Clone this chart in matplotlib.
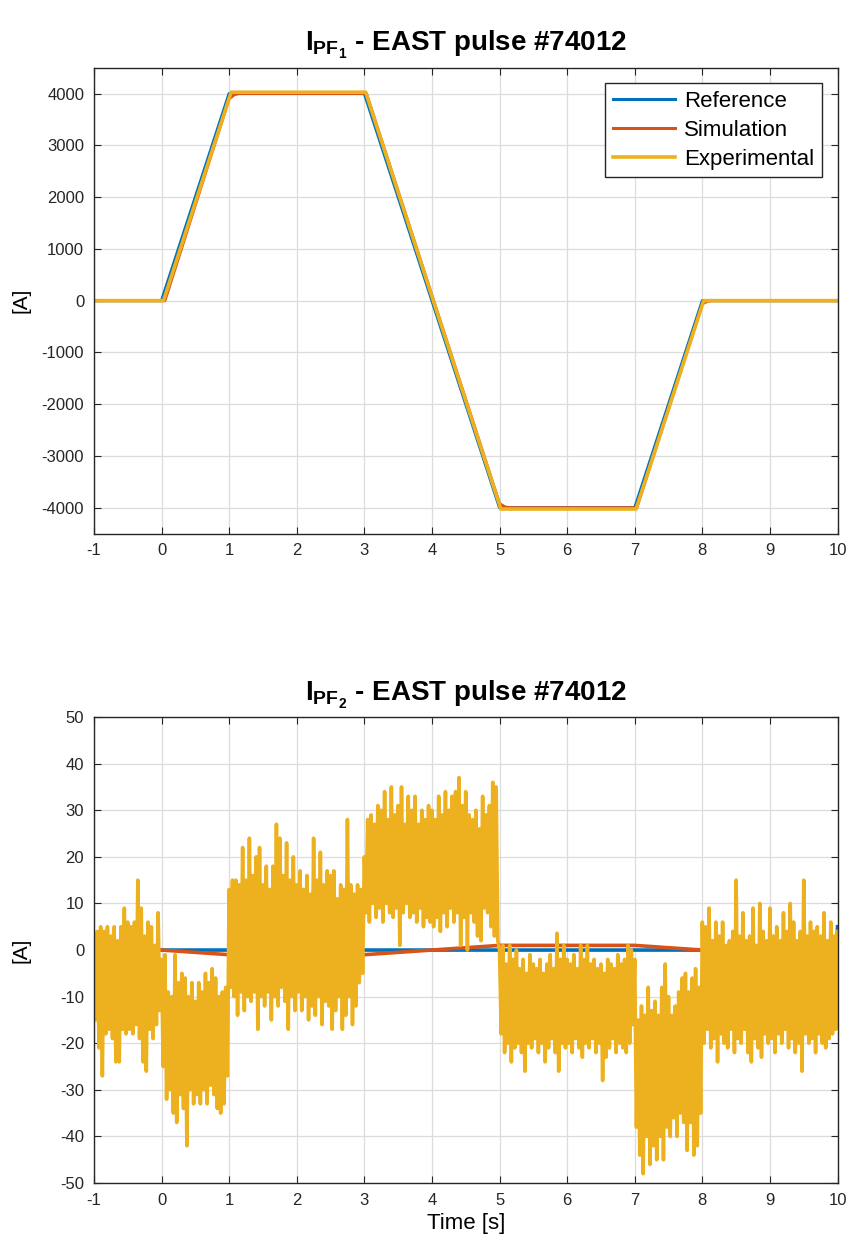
import numpy as np
import matplotlib
matplotlib.use("Agg")
import matplotlib.pyplot as plt

plt.rcParams['font.family'] = ['Liberation Sans', 'DejaVu Sans']
plt.rcParams['mathtext.fontset'] = 'custom'
plt.rcParams['mathtext.rm'] = 'Liberation Sans'
plt.rcParams['mathtext.bf'] = 'Liberation Sans:bold'
plt.rcParams['axes.unicode_minus'] = False
plt.rcParams['path.simplify'] = False

BLUE = '#0072BD'
RED = '#D95319'
YELLOW = '#EDB120'

# ---- PF1 currents [A] ----
pf1_ref_t = [-1, 0, 1, 3, 5, 7, 8, 10]
pf1_ref = [0, 0, 4000, 4000, -4000, -4000, 0, 0]
pf1_sim_t = [-1, 0.05, 1.0, 1.08, 1.15, 3.03, 5.0, 5.08, 5.15, 7.03, 8.0, 8.08, 8.15, 10]
pf1_sim = [0, 0, 3900, 3980, 4000, 4000, -3920, -3985, -4000, -4000, -60, -10, 0, 0]
pf1_exp_t = [-1, 0.03, 1.03, 3.02, 5.02, 7.02, 8.02, 10]
pf1_exp = [0, 0, 4025, 4025, -4025, -4025, 0, 0]

# ---- PF2 currents [A] ----
pf2_ref_t = [-1, 9.99, 10]
pf2_ref = [0, 0, 5]
pf2_sim_t = [-1, 0, 1, 3, 5, 7, 8, 10]
pf2_sim = [0, 0, -1, -1, 1, 1, 0, 0]

# experimental PF2: upper / lower excursions read every 0.05 s from t = -1
pf2_exp_hi = [
    3, 4, 5, 4, 5, 3, 5, 2, 5, 9, 6, 5, 6, 15, 9, 3, 6, 5, 1, 8,
    -2, -1, -9, -10, -1, -7, -5, -6, -10, -7, -11, -7, -9, -5, -7, -4, -6, -10, -9, -8,
    13, 15, 15, 14, 22, 15, 24, 16, 20, 22, 14, 18, 13, 18, 27, 24, 16, 23, 15, 20,
    14, 17, 13, 16, 12, 24, 15, 21, 14, 17, 16, 17, 11, 14, 13, 28, 14, 12, 14, 13,
    20, 28, 29, 27, 31, 30, 34, 28, 35, 29, 31, 35, 27, 33, 30, 33, 27, 30, 28, 31,
    30, 28, 33, 29, 34, 30, 33, 34, 37, 31, 34, 29, 28, 30, 26, 33, 29, 31, 36, 35,
    0, 1, -3, 1, -2, 0, -4, -2, -5, -1, -3, -4, -2, -5, -3, -1, -4, 3.6, -2, 1,
    -2, -3, -1, -4, 1, -2, 1, -3, -2, -4, -3, -5, -2, -3, -4, -1, -3, -2, 1, 0,
    -2, -15, -12, -14, -8, -13, -11, -14, -8, -3, -10, -14, -12, -9, -6, -5, -9, -6, -4, -8,
    6, 5, 9, 2, 6, 3, 6, 1, 2, 4, 15, 3, 8, 2, 3, 9, 1, 10, 4, 2,
    9, 3, 5, 2, 8, 4, 10, 6, 2, 4, 15, 3, 6, 4, 5, 3, 8, 2, 6, 3,
]
pf2_exp_lo = [
    -15, -21, -27, -18, -17, -19, -24, -24, -17, -18, -17, -18, -16, -19, -24, -26, -17, -19, -16, -13,
    -25, -32, -30, -35, -37, -31, -34, -42, -30, -33, -31, -33, -30, -33, -29, -31, -34, -35, -33, -27,
    -8, -10, -14, -9, -13, -10, -11, -9, -17, -10, -12, -9, -15, -10, -12, -8, -11, -17, -10, -13,
    -9, -13, -10, -15, -12, -14, -10, -16, -11, -12, -17, -13, -10, -17, -14, -10, -16, -12, -7, -5,
    8, 6, 10, 7, 9, 6, 10, 8, 7, 9, 1, 8, 10, 7, 8, 6, 9, 5, 7, 6,
    5, 7, 4, 8, 5, 9, 6, 8, 1, 7, 0, 8, 6, 3, 2, 9, 8, 5, 3, 2,
    -18, -22, -20, -24, -21, -20, -22, -26, -20, -21, -19, -22, -20, -24, -21, -19, -22, -26, -20, -21,
    -20, -22, -19, -21, -23, -20, -21, -19, -22, -20, -28, -23, -21, -19, -22, -20, -21, -22, -20, -16,
    -38, -44, -48, -40, -46, -42, -45, -40, -45, -38, -40, -36, -40, -35, -37, -43, -37, -44, -42, -35,
    -20, -17, -21, -19, -24, -18, -20, -21, -17, -22, -19, -20, -17, -22, -24, -19, -21, -23, -18, -20,
    -19, -22, -18, -20, -17, -21, -19, -22, -20, -26, -18, -20, -19, -22, -18, -20, -21, -19, -18, -17,
]
pf2_exp_end = 4

t_hi = -1 + 0.05 * np.arange(len(pf2_exp_hi))
t_lo = t_hi + 0.025
pf2_exp_t = np.append(np.column_stack([t_hi, t_lo]).ravel(), 10)
pf2_exp = np.append(np.column_stack([pf2_exp_hi, pf2_exp_lo]).ravel(), pf2_exp_end)


def style_axes(ax):
    ax.grid(True, color='#dcdcdc', linewidth=0.9)
    ax.set_axisbelow(True)
    ax.tick_params(direction='in', top=True, right=True, length=5,
                   labelsize=12, colors='#262626', pad=7)
    for s in ax.spines.values():
        s.set_color('#262626')
        s.set_linewidth(1.0)
    ax.set_xlim(-1, 10)
    ax.set_xticks(range(-1, 11))
    ax.set_ylabel('[A]', fontsize=15)
    ax.yaxis.set_label_coords(-0.085, 0.5)


fig = plt.figure(figsize=(8.46, 12.41), dpi=100)
ax1 = fig.add_axes([0.111, 0.570, 0.879, 0.3755])
ax2 = fig.add_axes([0.111, 0.0467, 0.879, 0.3755])

ax1.plot(pf1_ref_t, pf1_ref, color=BLUE, lw=2.2, label='Reference')
ax1.plot(pf1_sim_t, pf1_sim, color=RED, lw=2.2, label='Simulation')
ax1.plot(pf1_exp_t, pf1_exp, color=YELLOW, lw=2.6, label='Experimental')
style_axes(ax1)
ax1.set_ylim(-4500, 4500)
ax1.set_yticks(range(-4000, 4001, 1000))
ax1.set_title(r'$\mathbf{I}_{\mathbf{PF}_{\mathbf{1}}}$ - EAST pulse #74012',
              fontsize=20, fontweight='bold', pad=12)
leg = ax1.legend(loc='upper right', fontsize=16, handlelength=2.8,
                 fancybox=False, framealpha=1, edgecolor='#262626',
                 borderaxespad=0.7, labelspacing=0.35, handletextpad=0.4,
                 borderpad=0.35)
leg.get_frame().set_linewidth(1.0)

ax2.plot(pf2_ref_t, pf2_ref, color=BLUE, lw=2.6)
ax2.plot(pf2_sim_t, pf2_sim, color=RED, lw=2.6)
ax2.plot(pf2_exp_t, pf2_exp, color=YELLOW, lw=2.6)
style_axes(ax2)
ax2.set_ylim(-50, 50)
ax2.set_yticks(range(-50, 51, 10))
ax2.set_xlabel('Time [s]', fontsize=16, labelpad=4)
ax2.set_title(r'$\mathbf{I}_{\mathbf{PF}_{\mathbf{2}}}$ - EAST pulse #74012',
              fontsize=20, fontweight='bold', pad=12)

fig.savefig('out.png', dpi=100)
